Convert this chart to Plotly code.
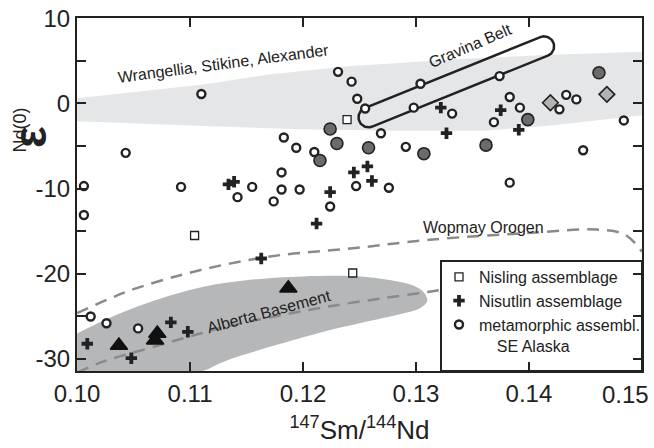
import numpy as np
import plotly.graph_objects as go

# ---------------- data ----------------
nisling_x = [0.1239, 0.1104, 0.1244]
nisling_y = [-1.9, -15.5, -19.9]

nisutlin_x = [0.1009, 0.1048, 0.1083, 0.1098, 0.1163, 0.1134, 0.1139, 0.1212,
              0.1224, 0.1245, 0.1257, 0.1261, 0.1322, 0.1327, 0.1375, 0.1391]
nisutlin_y = [-28.2, -29.9, -25.7, -26.8, -18.2, -9.5, -9.2, -14.1,
              -10.4, -8.1, -7.4, -9.1, -0.5, -3.5, -0.8, -3.1]

meta_x = [0.1006, 0.1006, 0.1043, 0.1110, 0.1092, 0.1142, 0.1155, 0.1174, 0.1181,
          0.1197, 0.1224, 0.1181, 0.1183, 0.1194, 0.1210, 0.1231, 0.1243, 0.1248,
          0.1255, 0.1269, 0.1291, 0.1304, 0.1298, 0.1332, 0.1247, 0.1276, 0.1374,
          0.1383, 0.1392, 0.1369, 0.1427, 0.1433, 0.1442, 0.1484, 0.1448, 0.1383,
          0.1012, 0.1026, 0.1054]
meta_y = [-9.7, -13.1, -5.8, 1.1, -9.8, -11.0, -9.8, -11.5, -10.1,
          -10.1, -12.1, -8.1, -4.0, -5.2, -5.7, 3.7, 2.55, 0.55,
          -0.6, -3.5, -5.1, 2.3, -0.5, -1.2, -9.7, -9.9, 3.2,
          0.75, -0.5, -2.2, -0.7, 1.0, 0.47, -2.0, -5.5, -9.3,
          -25.0, -25.8, -26.4]

gray_circ_x = [0.1224, 0.1230, 0.1215, 0.1258, 0.1307, 0.1362, 0.1399, 0.1462]
gray_circ_y = [-3.0, -4.7, -6.7, -5.2, -5.9, -4.9, -1.9, 3.6]

diamond_x = [0.1419, 0.1469]
diamond_y = [0.08, 1.06]

triangle_x = [0.1037, 0.1071, 0.1069, 0.1187]
triangle_y = [-28.4, -27.0, -27.8, -21.7]

# Wrangellia / Stikine / Alexander field (light band)
wsa_x = [0.100, 0.111, 0.117, 0.124, 0.134, 0.142, 0.150,
         0.150, 0.142, 0.136, 0.128, 0.119, 0.110, 0.100]
wsa_y = [0.6, 2.2, 3.4, 4.35, 5.2, 5.7, 6.05,
         -1.4, -2.6, -3.2, -3.2, -3.0, -2.6, -2.1]

# Alberta basement field (dark band)
ab_x = [0.1000, 0.1025, 0.1054, 0.1083, 0.1112, 0.1153, 0.1200, 0.1250, 0.1275,
        0.1298, 0.1307, 0.1310, 0.1304, 0.1290, 0.1250, 0.1224, 0.1160, 0.1130,
        0.1105, 0.1000]
ab_y = [-27.0, -25.4, -23.8, -22.5, -21.5, -20.7, -20.3, -20.3, -20.7,
        -21.4, -22.2, -23.2, -24.0, -24.6, -25.8, -26.6, -29.0, -30.3,
        -31.6, -31.6]

# Wopmay Orogen dashed curve
wop_x = [0.1000, 0.1029, 0.1050, 0.1093, 0.1135, 0.1180, 0.1244, 0.1312,
         0.1400, 0.1460, 0.1485, 0.1500]
wop_y = [-24.6, -22.9, -21.8, -20.1, -18.8, -17.8, -17.0, -16.0,
         -15.2, -14.8, -15.4, -17.4]

# Alberta basement dashed curve
abd_x = [0.1000, 0.1023, 0.1067, 0.1132, 0.1224, 0.1312, 0.1322]
abd_y = [-31.6, -30.3, -28.6, -26.2, -23.8, -22.1, -21.9]

# Gravina Belt outline: centre (data), half length & radius (px), angle (deg)
grav_cx, grav_cy = 0.13357, 2.53
grav_half_len_px, grav_rad_px, grav_angle = 104.7, 10.0, 22.0

x_ticks = [0.10, 0.11, 0.12, 0.13, 0.14]
x_ticklabels = ["0.10", "0.11", "0.12", "0.13", "0.14"]
x_last_tick, x_last_label = 0.15, "0.15"   # drawn flush with the right edge
y_ticks = [-30, -20, -10, 0, 10]
y_ticklabels = ["-30", "-20", "-10", "0", "10"]
y_minor_step = 5

x_range = [0.09999, 0.15001]
y_range = [-31.4, 10.02]

# ---------------- figure ----------------
W, H = 654, 448
ML, MR, MT, MB = 77, 12, 18, 77
pw, ph = W - ML - MR, H - MT - MB
pxx = pw / (x_range[1] - x_range[0])
pxy = ph / (y_range[1] - y_range[0])

INK = "#222222"
FONT = "Liberation Sans, Arial, Helvetica, sans-serif"
fig = go.Figure()

fig.add_trace(go.Scatter(x=wsa_x, y=wsa_y, fill="toself", mode="lines",
                         line=dict(width=0), fillcolor="#e5e6e8",
                         showlegend=False, hoverinfo="skip"))
fig.add_trace(go.Scatter(x=ab_x, y=ab_y, fill="toself", mode="lines",
                         line=dict(width=0, shape="spline"), fillcolor="#b6b7b9",
                         showlegend=False, hoverinfo="skip"))
fig.add_trace(go.Scatter(x=wop_x, y=wop_y, mode="lines",
                         line=dict(color="#8a8a8a", width=2.5, dash="12px,8px", shape="spline"),
                         showlegend=False, hoverinfo="skip"))
fig.add_trace(go.Scatter(x=abd_x, y=abd_y, mode="lines",
                         line=dict(color="#8a8a8a", width=2.5, dash="12px,8px", shape="spline"),
                         showlegend=False, hoverinfo="skip"))

# Gravina stadium outline
L = grav_half_len_px - grav_rad_px
t1 = np.linspace(-np.pi / 2, np.pi / 2, 40)
t2 = np.linspace(np.pi / 2, 3 * np.pi / 2, 40)
lx = np.concatenate([L + grav_rad_px * np.cos(t1), -L + grav_rad_px * np.cos(t2), [L]])
ly = np.concatenate([grav_rad_px * np.sin(t1), grav_rad_px * np.sin(t2), [-grav_rad_px]])
a = np.deg2rad(grav_angle)
rx = lx * np.cos(a) - ly * np.sin(a)
ry = lx * np.sin(a) + ly * np.cos(a)
fig.add_trace(go.Scatter(x=grav_cx + rx / pxx, y=grav_cy + ry / pxy, mode="lines",
                         line=dict(color=INK, width=2.5), showlegend=False,
                         hoverinfo="skip"))

fig.add_trace(go.Scatter(x=nisling_x, y=nisling_y, mode="markers", name="Nisling assemblage",
                         marker=dict(symbol="square", size=8, color="white",
                                     line=dict(color=INK, width=1.3))))
fig.add_trace(go.Scatter(x=nisutlin_x, y=nisutlin_y, mode="markers", name="Nisutlin assemblage",
                         marker=dict(symbol="cross", size=9.5, color=INK,
                                     line=dict(color=INK, width=0))))
fig.add_trace(go.Scatter(x=meta_x, y=meta_y, mode="markers",
                         name="metamorphic assembl.<br>\u00a0\u00a0\u00a0\u00a0SE Alaska",
                         marker=dict(symbol="circle", size=8, color="white",
                                     line=dict(color=INK, width=2.4))))
fig.add_trace(go.Scatter(x=gray_circ_x, y=gray_circ_y, mode="markers", showlegend=False,
                         marker=dict(symbol="circle", size=12, color="#6b6b6b",
                                     line=dict(color=INK, width=1.6))))
fig.add_trace(go.Scatter(x=diamond_x, y=diamond_y, mode="markers", showlegend=False,
                         marker=dict(symbol="diamond", size=12, color="#b3b3b3",
                                     line=dict(color=INK, width=1.6))))
fig.add_trace(go.Scatter(x=triangle_x, y=triangle_y, mode="markers", showlegend=False,
                         marker=dict(symbol="triangle-up", size=15, color="#111111",
                                     line=dict(color="#111111", width=1.5))))

# legend frame
fig.add_shape(type="rect", xref="paper", yref="paper",
              x0=(441 - ML) / pw, x1=1, y0=0, y1=(H - MB - 261) / ph,
              line=dict(color=INK, width=2), fillcolor="rgba(0,0,0,0)", layer="above")

labels = [
    ("Wrangellia, Stikine, Alexander", 0.1130, 4.7, -7.5),
    ("Gravina Belt", 0.13485, 6.74, -23.3),
    ("Wopmay Orogen", 0.13602, -14.6, 0),
    ("Alberta Basement", 0.1170, -24.4, -15),
]
for txt, lx_, ly_, ang in labels:
    fig.add_annotation(x=lx_, y=ly_, text=txt, showarrow=False, textangle=ang,
                       font=dict(size=16, color=INK, family=FONT))

# last x tick label, kept inside the picture like the reference
fig.add_annotation(x=x_last_tick, xref="x", y=(H - MB - 394) / ph, yref="paper",
                   text=x_last_label, showarrow=False, xanchor="right", yanchor="middle",
                   xshift=9, font=dict(size=24, color=INK, family=FONT))

# y-axis title (epsilon with subscript)
fig.add_annotation(xref="paper", yref="paper", x=(2 - ML) / pw, y=(H - MB - 137) / ph,
                   text="ε", showarrow=False, textangle=-90,
                   font=dict(size=46, color=INK, family=FONT, weight="bold"))
fig.add_annotation(xref="paper", yref="paper", x=(7 - ML) / pw, y=(H - MB - 106) / ph,
                   text="Nd(0)", showarrow=False, textangle=-90,
                   font=dict(size=18, color=INK, family=FONT))

fig.update_layout(
    width=W, height=H, margin=dict(l=ML, r=MR, t=MT, b=MB, autoexpand=False),
    plot_bgcolor="white", paper_bgcolor="white",
    font=dict(family=FONT, color=INK),
    showlegend=True,
    legend=dict(x=(439 - ML) / pw, y=(H - MB - 260) / ph, xanchor="left", yanchor="top",
                bgcolor="rgba(0,0,0,0)", borderwidth=0, font=dict(size=16, color=INK, family=FONT),
                valign="top", tracegroupgap=0, itemclick=False),
)
fig.update_xaxes(range=x_range, tickvals=x_ticks, ticktext=x_ticklabels, automargin=False,
                 ticks="inside", ticklen=9, tickwidth=2, tickcolor=INK,
                 showline=True, linewidth=2, linecolor=INK, mirror="ticks",
                 showgrid=False, zeroline=False, tickfont=dict(size=24, family=FONT, color=INK),
                 title=dict(text="<sup>147</sup>Sm/<sup>144</sup>Nd",
                            font=dict(size=26, family=FONT, color=INK), standoff=15))
fig.update_yaxes(range=y_range, tickvals=y_ticks, ticktext=y_ticklabels, automargin=False,
                 ticks="inside", ticklen=9, tickwidth=2, tickcolor=INK,
                 minor=dict(ticks="inside", ticklen=9, tickwidth=2, tickcolor=INK,
                            dtick=y_minor_step, tick0=0, showgrid=False),
                 showline=True, linewidth=2, linecolor=INK, mirror="ticks",
                 showgrid=False, zeroline=False, tickfont=dict(size=24, family=FONT, color=INK))

fig.write_html("out.html", config={"displayModeBar": False, "staticPlot": True},
               post_script="document.body.style.margin='0';document.body.style.padding='0';")
